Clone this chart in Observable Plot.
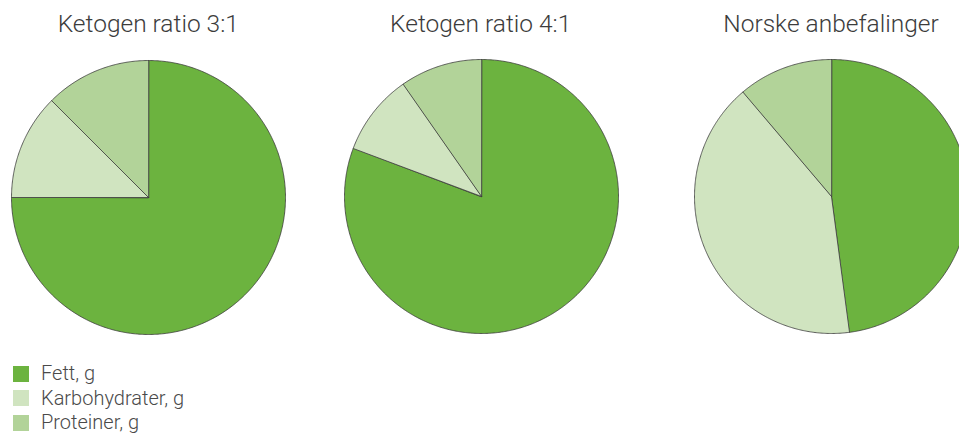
<!DOCTYPE html>
<html>
<head>
<meta charset="utf-8">
<script src="https://cdn.jsdelivr.net/npm/d3@7"></script>
<script src="https://cdn.jsdelivr.net/npm/@observablehq/plot@0.6"></script>
<style>
  html, body { margin: 0; padding: 0; background: #fff; overflow: hidden; }
  body { width: 959px; height: 435px; position: relative; font-family: Roboto, "Open Sans", sans-serif; }
  .title { position: absolute; top: 9px; width: 300px; margin-left: -150px; text-align: center;
           font-family: Roboto, sans-serif; font-weight: 300; font-size: 24.5px; color: #3c3c3c; white-space: nowrap; }
  .pie { position: absolute; }
  .pie svg { max-width: none !important; display: block; }
  #legend { position: absolute; left: 13px; top: 362px; }
  #legend, #legend * { font-family: Roboto, sans-serif !important; font-weight: 300 !important; font-size: 20px !important; color: #4a4a4a !important; }
  #legend > div > div { line-height: 23.5px !important; margin: 0 !important; }
  #legend svg { margin-right: 12px !important; }
</style>
</head>
<body>
<script>
// ---- data ----
const charts = ["Ketogen ratio 3:1", "Ketogen ratio 4:1", "Norske anbefalinger"];
const categories = ["Fett, g", "Karbohydrater, g", "Proteiner, g"];
const fett = [75, 80.7, 47.9];
const karbohydrater = [12.5, 9.6, 40.9];
const proteiner = [12.5, 9.7, 11.2];
const colors = ["#6cb33f", "#d0e4c0", "#b2d399"];

// ---- layout (pixels) ----
const R = 137;
const centers = [[148.3, 196.5], [480.7, 196.2], [831, 196.2]];
const M = 3;

const seriesByCategory = [fett, karbohydrater, proteiner];

charts.forEach((name, i) => {
  const values = categories.map((c, k) => ({key: c, value: seriesByCategory[k][i]}));
  const arcs = d3.pie().sort(null).value(d => d.value)(values);
  // polygon vertices for each slice (centre + arc samples)
  const pts = [];
  arcs.forEach(a => {
    pts.push({key: a.data.key, x: 0, y: 0});
    const n = Math.max(2, Math.ceil((a.endAngle - a.startAngle) / (Math.PI / 360)));
    for (let j = 0; j <= n; j++) {
      const t = a.startAngle + (a.endAngle - a.startAngle) * j / n;
      pts.push({key: a.data.key, x: Math.sin(t), y: Math.cos(t)});
    }
  });
  const size = 2 * R + 2 * M;
  const plot = Plot.plot({
    width: size, height: size,
    margin: M,
    x: {domain: [-1, 1], axis: null},
    y: {domain: [-1, 1], axis: null},
    color: {type: "ordinal", domain: categories, range: colors},
    marks: [
      Plot.line(pts, {x: "x", y: "y", z: "key", fill: "key", stroke: "#3a3a3a", strokeWidth: 0.8, curve: "linear-closed"})
    ]
  });
  const wrap = document.createElement("div");
  wrap.className = "pie";
  wrap.style.left = (centers[i][0] - size / 2) + "px";
  wrap.style.top = (centers[i][1] - size / 2) + "px";
  wrap.style.width = size + "px";
  wrap.style.height = size + "px";
  wrap.appendChild(plot);
  document.body.appendChild(wrap);

  const t = document.createElement("div");
  t.className = "title";
  t.style.left = centers[i][0] + "px";
  t.textContent = name;
  document.body.appendChild(t);
});

const legend = Plot.legend({
  color: {type: "ordinal", domain: categories, range: colors},
  columns: 1,
  swatchSize: 16
});
const lw = document.createElement("div");
lw.id = "legend";
lw.appendChild(legend);
document.body.appendChild(lw);
</script>
</body>
</html>
